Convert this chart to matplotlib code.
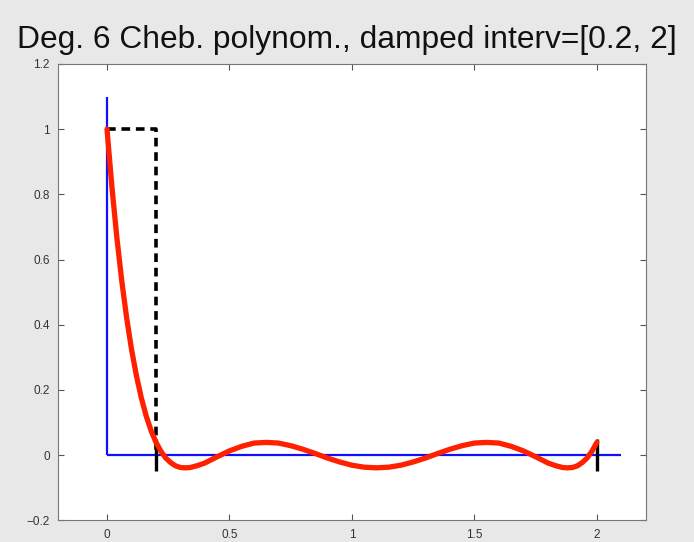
import matplotlib
matplotlib.use("Agg")
import matplotlib.pyplot as plt

# Red curve: values (damped Chebyshev filter)
x_curve = [0.0, 0.02, 0.04, 0.06, 0.08, 0.10, 0.12, 0.14, 0.16, 0.18, 0.20,
           0.22, 0.24, 0.26, 0.28, 0.30, 0.32, 0.34, 0.37, 0.40, 0.45, 0.50,
           0.55, 0.60, 0.65, 0.70, 0.75, 0.80, 0.85, 0.90, 0.95, 1.00, 1.05,
           1.10, 1.15, 1.20, 1.25, 1.30, 1.35, 1.40, 1.45, 1.50, 1.55, 1.60,
           1.65, 1.70, 1.75, 1.80, 1.83, 1.86, 1.88, 1.90, 1.92, 1.94, 1.96,
           1.98, 2.00]
y_curve = [1.000, 0.823, 0.669, 0.536, 0.422, 0.325, 0.244, 0.176, 0.120, 0.075, 0.039,
           0.012, -0.009, -0.023, -0.033, -0.038, -0.039, -0.038, -0.032, -0.024, -0.005, 0.013,
           0.027, 0.037, 0.039, 0.037, 0.029, 0.018, 0.005, -0.009, -0.021, -0.031, -0.037,
           -0.039, -0.037, -0.031, -0.021, -0.009, 0.005, 0.018, 0.029, 0.037, 0.039, 0.037,
           0.027, 0.013, -0.005, -0.024, -0.032, -0.038, -0.039, -0.038, -0.033, -0.023, -0.009,
           0.012, 0.039]

# Blue axis lines
x_axis_line = [0.0, 2.1]
y_axis_line = [0.0, 1.1]

# Black dashed step (ideal filter)
x_step = [0.0, 0.2, 0.2]
y_step = [1.0, 1.0, 0.0]

# Interval end markers
interval_ends = [0.2, 2.0]
marker_half = 0.05

x_ticks = [0, 0.5, 1, 1.5, 2]
x_ticklabels = ["0", "0.5", "1", "1.5", "2"]
y_ticks = [-0.2, 0, 0.2, 0.4, 0.6, 0.8, 1, 1.2]
y_ticklabels = ["\u22120.2", "0", "0.2", "0.4", "0.6", "0.8", "1", "1.2"]

title = "Deg. 6 Cheb. polynom., damped interv=[0.2, 2]"

plt.rcParams['font.family'] = ['Liberation Sans', 'DejaVu Sans']

fig = plt.figure(figsize=(6.94, 5.42), dpi=100, facecolor='#e8e8e8')
ax = fig.add_axes([0.0836, 0.040, 0.847, 0.842])
ax.set_facecolor('white')

ax.plot([0, 0], y_axis_line, color='#1010ff', lw=1.6, solid_capstyle='butt')
ax.plot(x_axis_line, [0, 0], color='#1010ff', lw=1.6, solid_capstyle='butt')
ax.plot(x_step, y_step, color='black', lw=2.6, ls=(0, (2.4, 1.6)))
for xe in interval_ends:
    ax.plot([xe, xe], [-marker_half, marker_half], color='black', lw=2.4,
            solid_capstyle='butt')
ax.plot(x_curve, y_curve, color='#ff2000', lw=3.8, solid_capstyle='round',
        solid_joinstyle='round')

ax.set_xlim(-0.2, 2.2)
ax.set_ylim(-0.2, 1.2)
ax.set_xticks(x_ticks)
ax.set_xticklabels(x_ticklabels)
ax.set_yticks(y_ticks)
ax.set_yticklabels(y_ticklabels)
ax.tick_params(direction='in', length=4, width=0.8, colors='#555555',
               labelsize=8.5, labelcolor='#333333', top=True, right=True, pad=6)
for s in ax.spines.values():
    s.set_color('#777777')
    s.set_linewidth(0.8)

fig.text(0.5, 0.927, title, ha='center', va='center', fontsize=22.9, color='#111111')

fig.savefig('out.png', dpi=100, facecolor=fig.get_facecolor())
